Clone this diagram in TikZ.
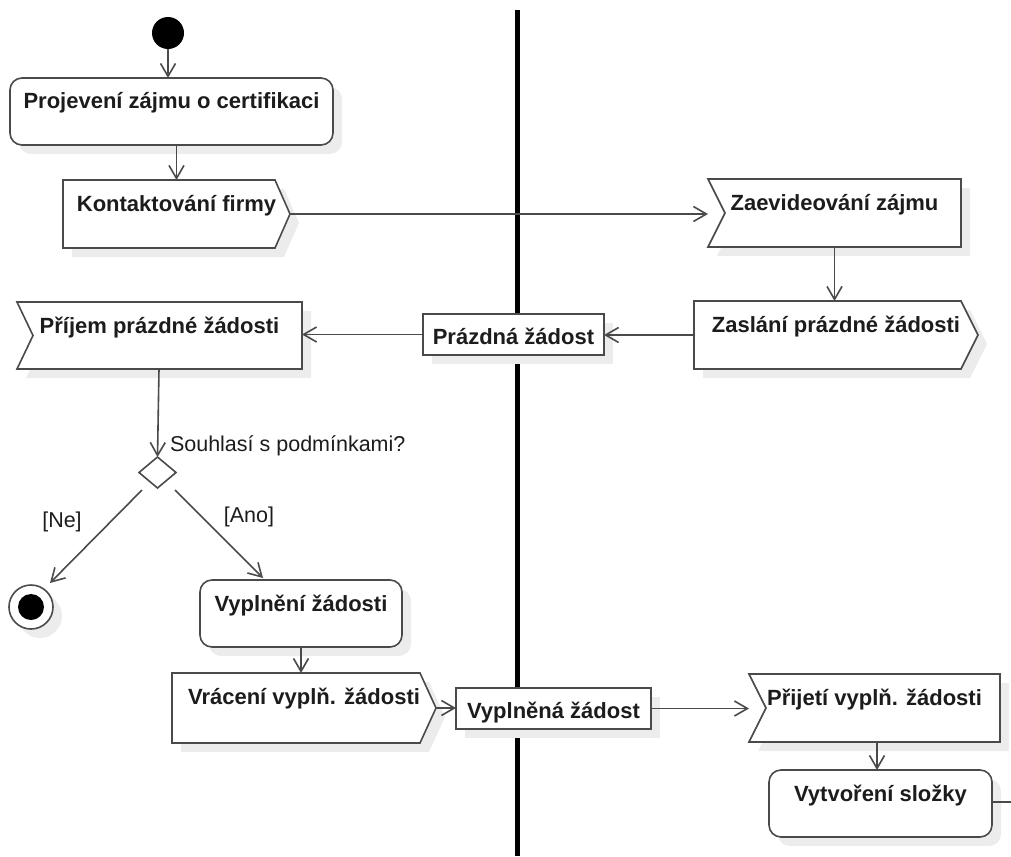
\documentclass[tikz,border=0pt]{standalone}
\usepackage{fontspec}
\setmainfont{Liberation Sans}
\usetikzlibrary{arrows.meta,calc,shadows,shapes.geometric,backgrounds}

\definecolor{edgegray}{HTML}{4A4A4A}
\definecolor{inkgray}{HTML}{1C1C1C}
\definecolor{shadegray}{HTML}{ECECEC}

\begin{document}
\begin{tikzpicture}[x=1pt,y=-1pt,
  every node/.style={outer sep=0pt, inner sep=0pt, text=inkgray},
  boldtext/.style={font=\fontsize{22}{26}\selectfont\bfseries},
  plaintext/.style={font=\fontsize{21.5}{26}\selectfont},
  outl/.style={draw=edgegray, line width=1.6pt},
  shade/.style={drop shadow={shadow xshift=9pt, shadow yshift=-9pt, fill=shadegray, opacity=1}},
  % activity text sits near the top of its box
  topbox/.style={rectangle, anchor=north west, boldtext, text height=31pt, align=center},
  action/.style={topbox, outl, fill=white, rounded corners=12pt, shade},
  signalbox/.style={topbox, draw=none},
  objectbox/.style={rectangle, anchor=north west, boldtext, text height=30pt, outl, fill=white, shade, inner sep=0pt},
  arr/.style={draw=edgegray, line width=1.6pt, -{Straight Barb[length=13pt, width=15pt, line width=1.6pt]}},
  flow/.style={draw=edgegray, line width=1.6pt}
]
\useasboundingbox (0,0) rectangle (1011,856);

% swimlane separator
\draw[line width=5pt, black] (517,10) -- (517,856);

% initial and final nodes
\node[circle, fill=black, minimum size=32pt] (start) at (168,33) {};
\node[circle, outl, fill=white, minimum size=44pt, shade] (fin) at (31,607) {};
\node[circle, fill=black, minimum size=26pt] (finin) at (fin) {};

% left lane activities
\node[action, minimum width=323pt, text depth=36pt] (proj) at (10,78) {Projevení zájmu o certifikaci};
\node[signalbox, minimum width=227pt, text depth=37pt] (kont) at (63,180) {Kontaktování firmy};
\node[signalbox, minimum width=285pt, text depth=36pt] (prijem) at (17,302) {Příjem prázdné žádosti};
\node[diamond, outl, fill=white, minimum width=37pt, minimum height=31pt] (dec) at (157.5,472.5) {};
\node[action, minimum width=202pt, text depth=36pt] (vypl) at (200,580) {Vyplnění žádosti};
\node[signalbox, minimum width=264pt, text depth=39pt] (vrac) at (172,673) {Vrácení vyplň. žádosti};

% right lane activities
\node[signalbox, minimum width=253pt, text depth=37pt] (zaev) at (708,179) {Zaevideování zájmu};
\node[signalbox, minimum width=284pt, text depth=37pt] (zasl) at (694,301) {Zaslání prázdné žádosti};
\node[signalbox, minimum width=251pt, text depth=37pt] (prij) at (749,674) {Přijetí vyplň. žádosti};
\node[action, minimum width=223pt, text depth=36pt] (vytv) at (769,770) {Vytvoření složky};

% object nodes on the lane boundary
\node[objectbox, minimum width=181pt, text depth=11pt] (prazd) at (423,314) {Prázdná žádost};
\node[objectbox, minimum width=195pt, text depth=11pt] (vypln) at (456,688) {Vyplněná žádost};

% outlines of send and receive signal actions
\begin{scope}[on background layer]
  % send signals: pointed on the right
  \draw[outl, fill=white, shade] (kont.north west) -- ($(kont.north east)+(-15,0)$) -- (kont.east)
     -- ($(kont.south east)+(-15,0)$) -- (kont.south west) -- cycle;
  \draw[outl, fill=white, shade] (zasl.north west) -- ($(zasl.north east)+(-17,0)$) -- (zasl.east)
     -- ($(zasl.south east)+(-17,0)$) -- (zasl.south west) -- cycle;
  \draw[outl, fill=white, shade] (vrac.north west) -- ($(vrac.north east)+(-16,0)$) -- (vrac.east)
     -- ($(vrac.south east)+(-16,0)$) -- (vrac.south west) -- cycle;
  % receive signals: notched on the left
  \draw[outl, fill=white, shade] (zaev.north west) -- (zaev.north east) -- (zaev.south east)
     -- (zaev.south west) -- ($(zaev.west)+(17,0)$) -- cycle;
  \draw[outl, fill=white, shade] (prijem.north west) -- (prijem.north east) -- (prijem.south east)
     -- (prijem.south west) -- ($(prijem.west)+(16,0)$) -- cycle;
  \draw[outl, fill=white, shade] (prij.north west) -- (prij.north east) -- (prij.south east)
     -- (prij.south west) -- ($(prij.west)+(17,0)$) -- cycle;
\end{scope}

% control flows
\draw[arr] (start) -- (start |- proj.north);
\draw[arr] (proj.south -| kont.north) -- (kont.north);
\draw[arr] (kont.east) -- (kont.east -| zaev.west);
\draw[arr] (zaev.south) -- (zaev.south |- zasl.north);
\draw[arr] (zasl.west) -- (zasl.west -| prazd.east);
\draw[arr] (prazd.west) -- (prazd.west -| prijem.east);
\draw[arr] ($(prijem.south -| dec.north)+(1.5,0)$) -- (dec.north);
\draw[arr] ($(dec.south)+(-15.5,2)$) -- ($(fin.center)+(19,-24)$);
\draw[arr] ($(dec.south)+(17.5,2)$) -- ($(vypl.north west)+(63,-2)$);
\draw[arr] (vypl.south) -- (vypl.south |- vrac.north);
\draw[arr] (vrac.east) -- (vrac.east -| vypln.west);
\draw[arr] (vypln.east) -- (vypln.east -| prij.west);
\draw[arr] ($(prij.south)+(2.5,0)$) -- ($(prij.south |- vytv.north)+(2.5,0)$);
\coordinate (cont) at (1011,802);
\draw[flow] (vytv.east |- cont) -- (cont);

% guard and decision labels
\node[plaintext, anchor=west] (question) at (170,446) {Souhlasí s podmínkami?};
\node[plaintext] (ne) at (62,522) {[Ne]};
\node[plaintext] (ano) at (249,517) {[Ano]};
\end{tikzpicture}
\end{document}
